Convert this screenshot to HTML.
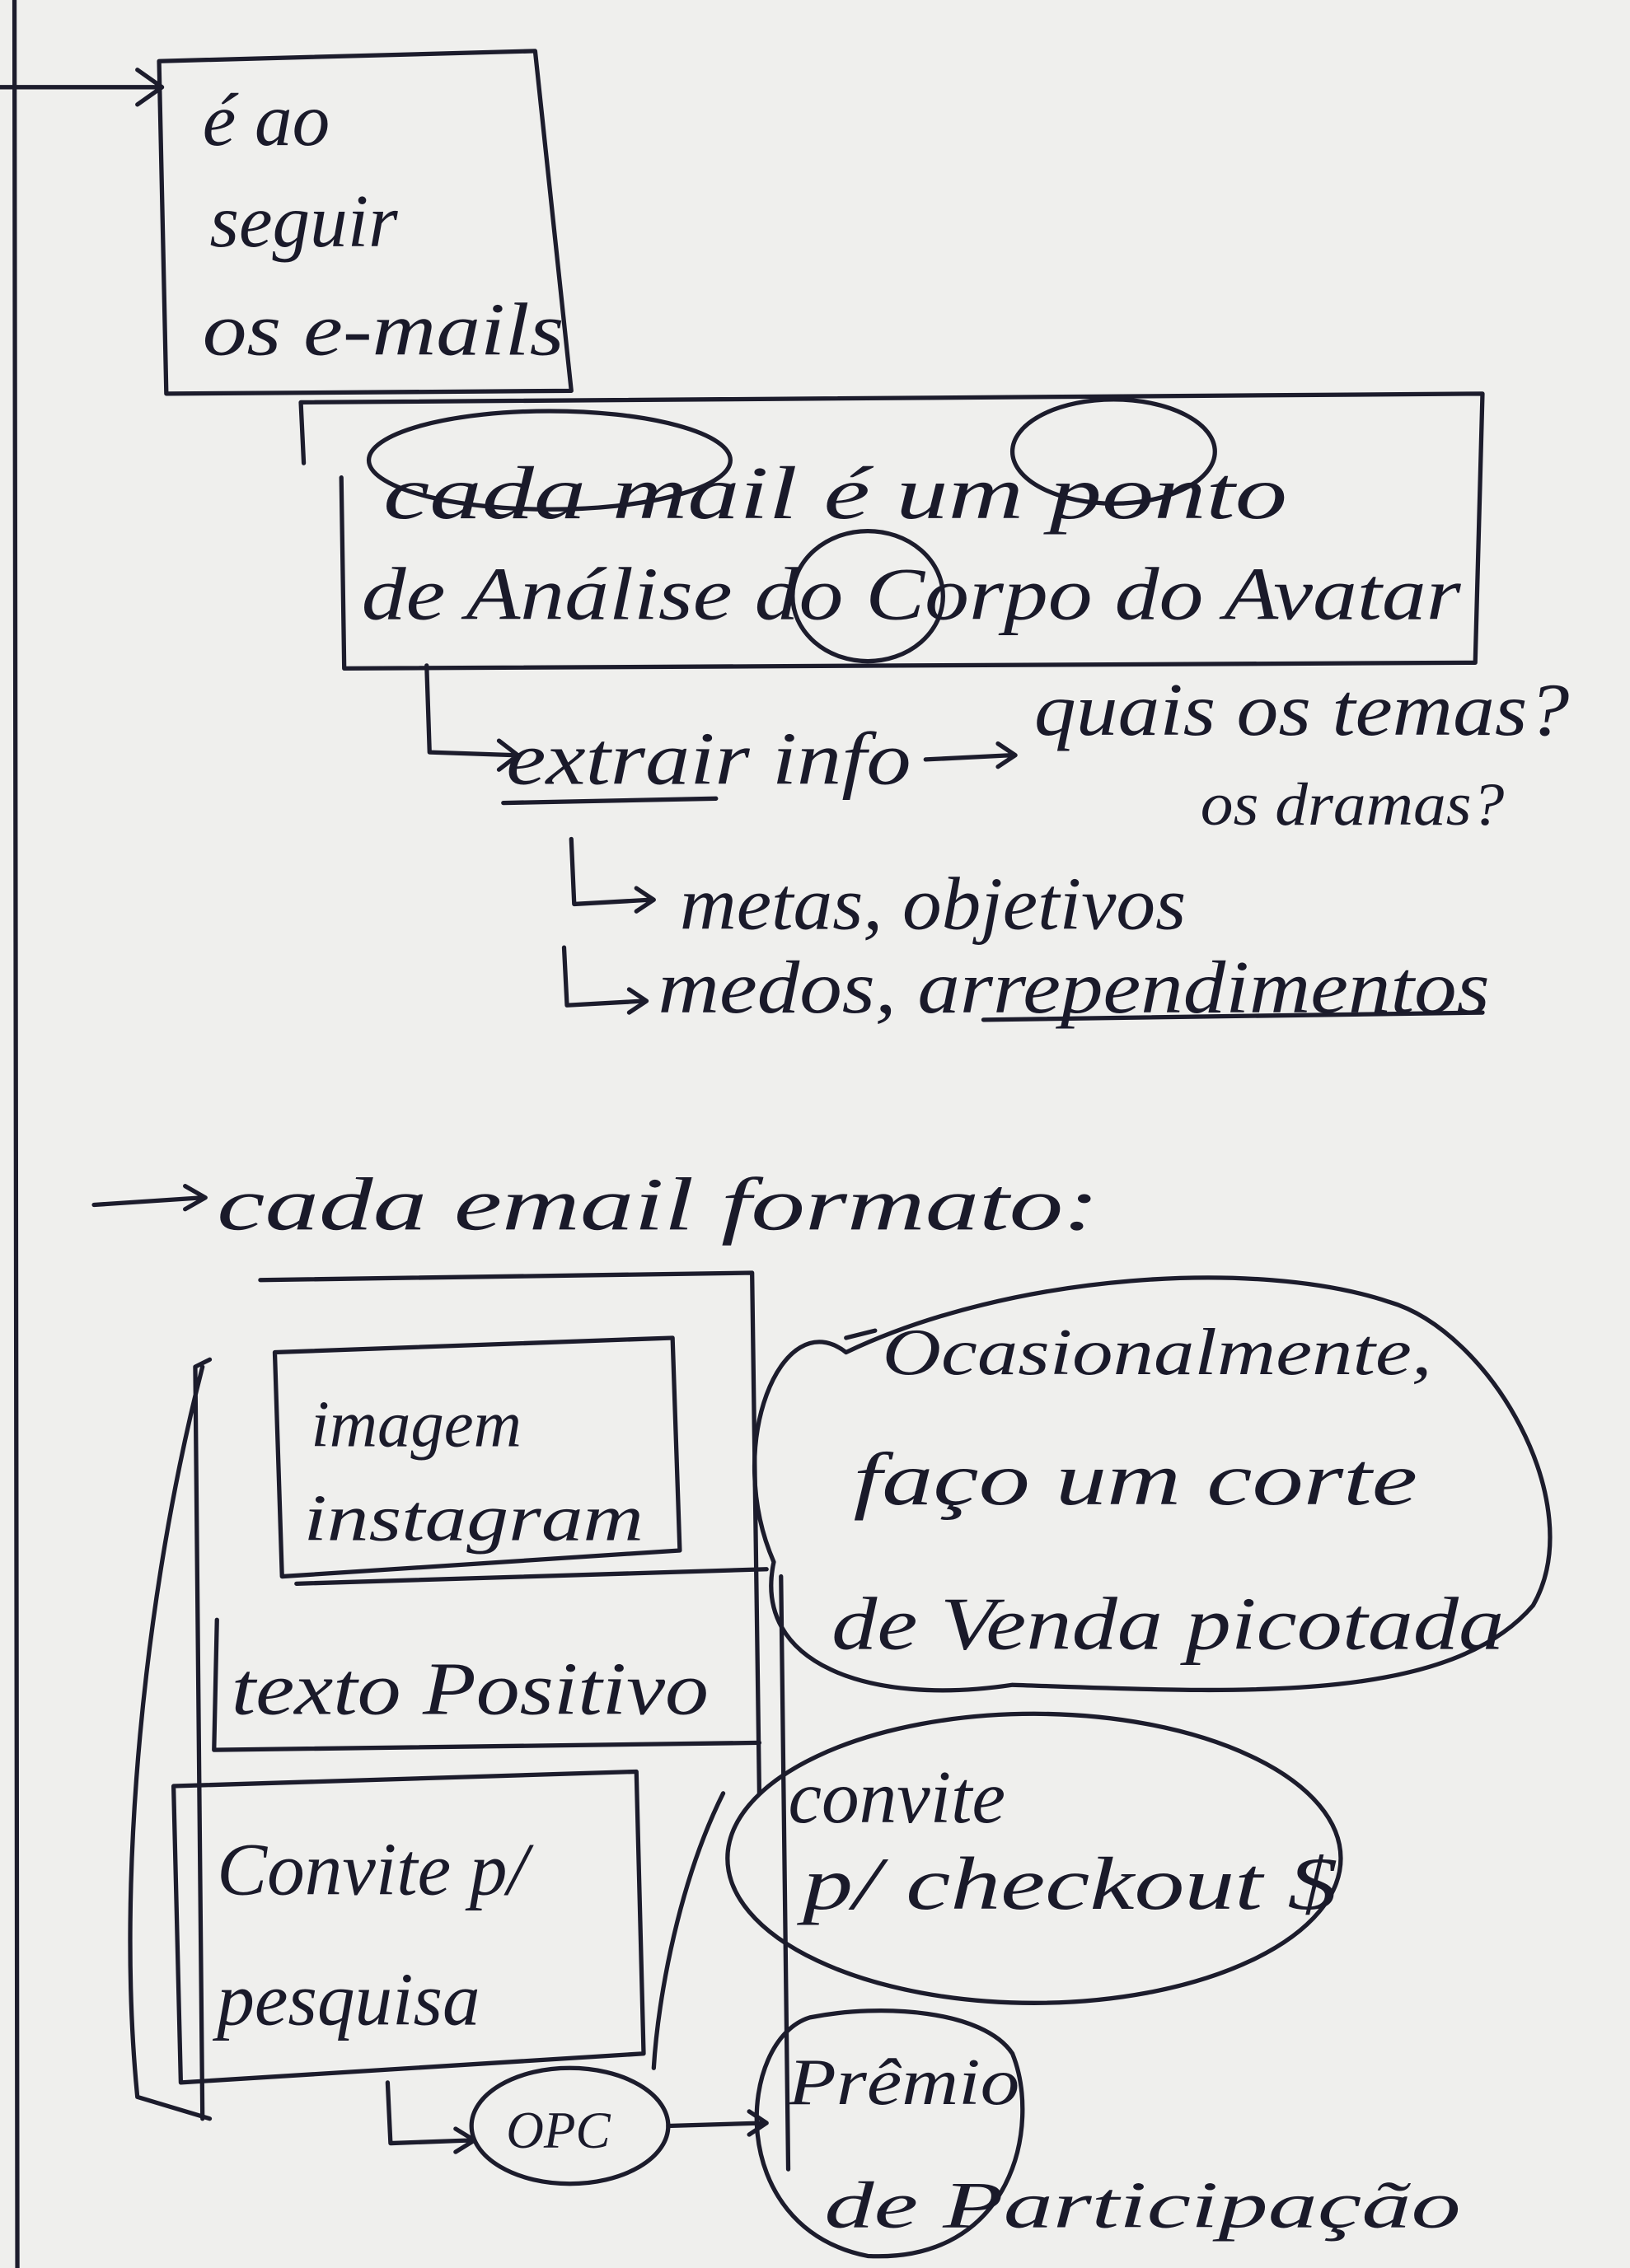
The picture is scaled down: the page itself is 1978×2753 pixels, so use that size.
<!DOCTYPE html>
<html><head><meta charset="utf-8"><style>
html,body{margin:0;padding:0;background:#efefed;}
svg{display:block}
text{font-family:"Liberation Serif",serif;font-style:italic;fill:#1a1a2a;}
</style></head><body>
<svg width="1978" height="2753" viewBox="0 0 1127 1568" xmlns="http://www.w3.org/2000/svg">
<rect width="1127" height="1568" fill="#efefed"/>
<g fill="none" stroke="#1c1c2c" stroke-width="3" stroke-linecap="round" stroke-linejoin="round">
<path d="M10 0 L12 1568"/>
<path d="M0 60 L110 60 M95 48 L112 60 L95 72"/>
<path d="M110 42 L370 35 L395 270 L115 272 Z"/>
<path d="M210 320 L208 278 L1025 272 L1020 458 L238 462 L236 330"/>
<ellipse cx="380" cy="318" rx="125" ry="34"/>
<ellipse cx="770" cy="312" rx="70" ry="36"/>
<ellipse cx="600" cy="412" rx="52" ry="45"/>
<path d="M295 460 L297 520 L355 522 M345 512 L358 522 L345 532"/>
<path d="M348 555 L495 552"/>
<path d="M640 525 L700 522 M690 514 L702 522 L690 530"/>
<path d="M395 580 L397 625 L450 622 M440 614 L452 622 L440 630"/>
<path d="M390 655 L392 695 L445 692 M435 684 L447 692 L435 700"/>
<path d="M680 705 L1025 700"/>
<path d="M65 833 L140 828 M128 820 L142 828 L128 836"/>
<path d="M180 885 L520 880 L525 1240"/>
<path d="M145 940 L135 945 L140 1465 M140 945 C100 1100 80 1300 95 1450 L145 1465"/>
<path d="M190 935 L465 925 L470 1072 L195 1090 Z"/>
<path d="M205 1095 L530 1085 M150 1120 L148 1210 L525 1205"/>
<path d="M120 1235 L440 1225 L445 1420 L125 1440 Z"/>
<path d="M585 935 C540 900 500 1000 535 1080 C520 1150 600 1180 700 1165 C850 1170 1000 1180 1060 1110 C1100 1040 1030 920 960 900 C870 870 700 880 585 935 Z"/>
<path d="M585 925 L605 920"/>
<ellipse cx="715" cy="1285" rx="212" ry="100"/>
<path d="M540 1090 L545 1500"/>
<path d="M500 1240 C470 1300 455 1380 452 1430"/>
<path d="M268 1440 L270 1482 L325 1480 M315 1472 L328 1480 L315 1488"/>
<ellipse cx="394" cy="1470" rx="68" ry="40"/>
<path d="M462 1470 L528 1468 M518 1460 L530 1468 L518 1476"/>
<path d="M560 1395 C510 1410 500 1540 600 1560 C700 1565 720 1470 700 1420 C680 1390 610 1385 560 1395"/>
</g>
<g font-size="52">
<text x="140" y="100">é ao</text>
<text x="145" y="170">seguir</text>
<text x="140" y="245" textLength="250" lengthAdjust="spacingAndGlyphs">os e-mails</text>
<text x="265" y="358" textLength="625" lengthAdjust="spacingAndGlyphs">cada mail é um ponto</text>
<text x="250" y="428" textLength="760" lengthAdjust="spacingAndGlyphs">de Análise do Corpo do Avatar</text>
<text x="350" y="542" textLength="280" lengthAdjust="spacingAndGlyphs">extrair info</text>
<text x="715" y="508" textLength="370" lengthAdjust="spacingAndGlyphs">quais os temas?</text>
<text x="830" y="570" font-size="42" textLength="210" lengthAdjust="spacingAndGlyphs">os dramas?</text>
<text x="470" y="642" textLength="350" lengthAdjust="spacingAndGlyphs">metas, objetivos</text>
<text x="455" y="700" textLength="575" lengthAdjust="spacingAndGlyphs">medos, arrependimentos</text>
<text x="150" y="850" textLength="610" lengthAdjust="spacingAndGlyphs">cada email formato:</text>
<text x="215" y="1000" font-size="46">imagem</text>
<text x="210" y="1065" font-size="46" textLength="235" lengthAdjust="spacingAndGlyphs">instagram</text>
<text x="160" y="1185" textLength="330" lengthAdjust="spacingAndGlyphs">texto Positivo</text>
<text x="150" y="1310">Convite p/</text>
<text x="150" y="1400">pesquisa</text>
<text x="610" y="950" font-size="46" textLength="380" lengthAdjust="spacingAndGlyphs">Ocasionalmente,</text>
<text x="590" y="1040" textLength="390" lengthAdjust="spacingAndGlyphs">faço um corte</text>
<text x="575" y="1140" textLength="465" lengthAdjust="spacingAndGlyphs">de Venda picotada</text>
<text x="545" y="1260">convite</text>
<text x="555" y="1320" textLength="370" lengthAdjust="spacingAndGlyphs">p/ checkout $</text>
<text x="350" y="1485" font-size="36">OPC</text>
<text x="545" y="1455" font-size="46" textLength="160" lengthAdjust="spacingAndGlyphs">Prêmio</text>
<text x="570" y="1540" font-size="46" textLength="440" lengthAdjust="spacingAndGlyphs">de Participação</text>
</g>
</svg>
</body></html>
